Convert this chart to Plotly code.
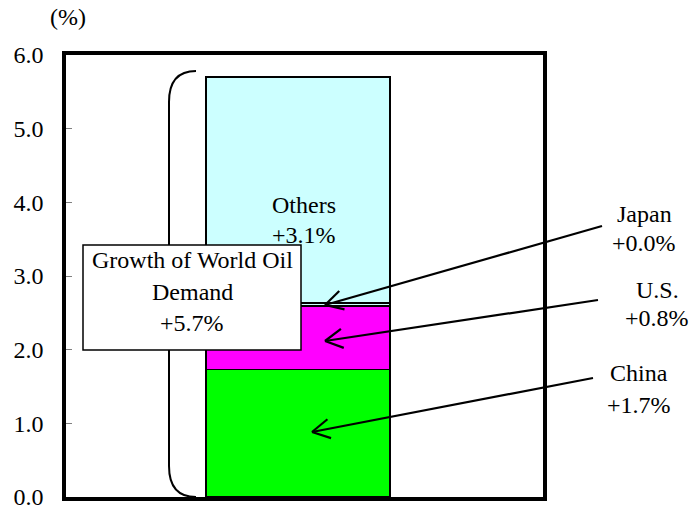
import math
import plotly.graph_objects as go

# ---- data ----
categories = ["China", "U.S.", "Japan", "Others"]
values = [1.73, 0.86, 0.04, 3.07]
bar_colors = ["#00FF00", "#FF00FF", "#CCFFFF", "#CCFFFF"]
label_lines = [["China", "+1.7%"], ["U.S.", "+0.8%"], ["Japan", "+0.0%"], ["Others", "+3.1%"]]
total_lines = ["Growth of World Oil", "Demand", "+5.7%"]
y_ticks = [0, 1, 2, 3, 4, 5, 6]
y_tick_labels = ["0.0", "1.0", "2.0", "3.0", "4.0", "5.0", "6.0"]

W, H = 690, 510
L, R, T, B = 66, 543, 55, 497
FONT = "Liberation Serif, Times New Roman, serif"
FS = 24


def px(x):
    return (x - L) / (R - L)


def py(y):
    return (B - y) / (B - T)


fig = go.Figure()
for cat, v, c in zip(categories, values, bar_colors):
    fig.add_trace(go.Bar(
        x=[px(298)], y=[v], width=[184 / (R - L)], name=cat,
        marker=dict(color=c, line=dict(color="black", width=1.8)),
        showlegend=False, hoverinfo="skip",
    ))

shapes = []
# bracket
x0, x1 = px(196), px(169)
shapes.append(dict(
    type="path", xref="paper", yref="paper",
    path=(f"M {x0},{py(71)} Q {x1},{py(71)} {x1},{py(102)} "
          f"L {x1},{py(466)} Q {x1},{py(497)} {x0},{py(497)}"),
    line=dict(color="black", width=2), layer="above"))
# total box
shapes.append(dict(type="rect", xref="paper", yref="paper",
                   x0=px(83), x1=px(301), y0=py(350), y1=py(245),
                   fillcolor="white", line=dict(color="black", width=1.5), layer="above"))

# arrows (tail -> tip in pixels)
arrows = [((593, 378), (312, 432)), ((598, 300), (325, 341)), ((602, 226), (325, 305))]
for (tx, ty), (hx, hy) in arrows:
    shapes.append(dict(type="line", xref="paper", yref="paper",
                       x0=px(tx), y0=py(ty), x1=px(hx), y1=py(hy),
                       line=dict(color="black", width=2.2), layer="above"))
    ang = math.atan2(ty - hy, tx - hx)
    for d in (-0.5, 0.5):
        ax_ = hx + 20 * math.cos(ang + d)
        ay_ = hy + 20 * math.sin(ang + d)
        shapes.append(dict(type="line", xref="paper", yref="paper",
                           x0=px(hx), y0=py(hy), x1=px(ax_), y1=py(ay_),
                           line=dict(color="black", width=2.2), layer="above"))

annotations = []


def txt(s, x, y, size=FS):
    annotations.append(dict(text=s, x=px(x), y=py(y), xref="paper", yref="paper",
                            showarrow=False, xanchor="center", yanchor="middle",
                            font=dict(family=FONT, size=size, color="black")))


txt("(%)", 68, 17)
for s, y in zip(total_lines, [260, 292, 323]):
    txt(s, 192, y)
label_pos = [(639, 373, 405), (657, 290, 318), (644, 214, 243), (304, 205, 235)]
for (a, b), (x, y1, y2) in zip(label_lines, label_pos):
    txt(a, x, y1)
    txt(b, x, y2)

fig.update_layout(
    width=W, height=H, barmode="stack",
    margin=dict(l=L, r=W - R, t=T, b=H - B, pad=0, autoexpand=False),
    plot_bgcolor="white", paper_bgcolor="white",
    shapes=shapes, annotations=annotations,
    xaxis=dict(range=[0, 1], showticklabels=False, ticks="", showgrid=False,
               zeroline=False, showline=True, linecolor="black", linewidth=3.5, mirror=True),
    yaxis=dict(range=[0, 6], tickvals=y_ticks, ticktext=y_tick_labels,
               ticks="inside", ticklen=6, tickcolor="gray", tickwidth=1,
               ticklabelstandoff=14, ticklabeloverflow="allow",
               tickfont=dict(family=FONT, size=FS, color="black"),
               showgrid=False, zeroline=False, showline=True,
               linecolor="black", linewidth=3.5, mirror=True),
)

fig.write_html("out.html", config={"displayModeBar": False},
               post_script="document.body.style.margin='0';document.body.style.overflow='hidden';")
